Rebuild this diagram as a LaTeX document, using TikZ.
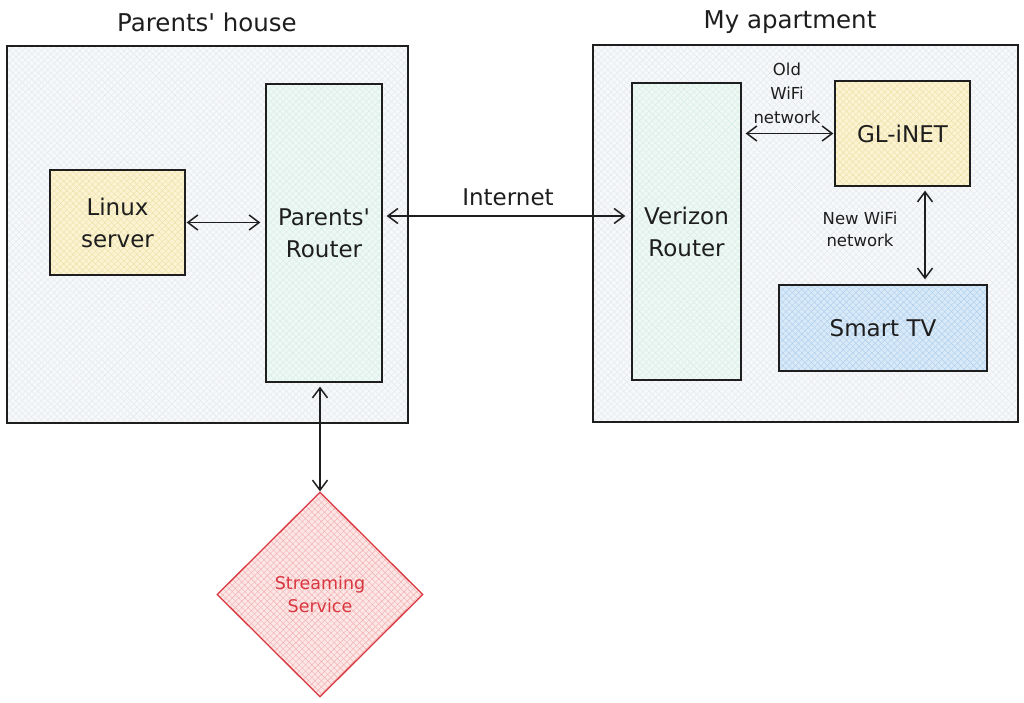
\documentclass[tikz,border=0pt]{standalone}
\usepackage{fontspec}
\setmainfont{DejaVu Sans}
\usetikzlibrary{arrows.meta,shapes.geometric,patterns.meta}
\definecolor{ink}{HTML}{1E1E1E}
\definecolor{frameF}{HTML}{F6F8FA}
\definecolor{frameP}{HTML}{E3E8ED}
\definecolor{routerF}{HTML}{EEF8F5}
\definecolor{routerP}{HTML}{D6ECE5}
\definecolor{yelF}{HTML}{FBF3D2}
\definecolor{yelP}{HTML}{EEDFA3}
\definecolor{tvF}{HTML}{D8E9F8}
\definecolor{tvP}{HTML}{ADCEEC}
\definecolor{redF}{HTML}{FCE6E6}
\definecolor{redP}{HTML}{F2AEAE}
\definecolor{redD}{HTML}{D9363E}
\tikzset{
  hatch/.style 2 args={preaction={fill=#1},
    preaction={pattern={Lines[angle=45,distance=4.5pt,line width=0.4pt]}, pattern color=#2},
    preaction={pattern={Lines[angle=-45,distance=4.5pt,line width=0.4pt]}, pattern color=#2}},
  box/.style={draw=ink, line width=1.3pt, inner sep=0pt, align=center, font=\fontsize{23}{32}\selectfont, text=ink},
  frame/.style={draw=ink, line width=1.3pt, hatch={frameF}{frameP}},
  conn/.style={draw=ink, line width=1.5pt, >={Straight Barb[length=10pt,width=15pt]}, <->},
  title/.style={font=\fontsize{24.5}{28}\selectfont, text=ink},
  lbl/.style={text=ink, align=center}
}
\begin{document}
\begin{tikzpicture}[x=1pt,y=-1pt]
\useasboundingbox (0,0) rectangle (1024,703);
% frames
\path[frame] (7,46) rectangle (408,423);
\path[frame] (593,45) rectangle (1018,422);
\node[title] (t1) at (207,22) {Parents\textquotesingle{} house};
\node[title] (t2) at (790,22) {My apartment};
% nodes
\node[box, hatch={yelF}{yelP}, minimum width=135pt, minimum height=105pt] (ls) at (117.5,222.5) {Linux\\server};
\node[box, hatch={routerF}{routerP}, minimum width=116pt, minimum height=298pt] (pr) at (324,233) {Parents\textquotesingle\\Router};
\node[box, hatch={routerF}{routerP}, minimum width=109pt, minimum height=297pt] (vr) at (686.5,231.5) {Verizon\\Router};
\node[box, hatch={yelF}{yelP}, minimum width=135pt, minimum height=105pt] (gl) at (902.5,133.5) {GL-iNET};
\node[box, hatch={tvF}{tvP}, minimum width=208pt, minimum height=86pt] (tv) at (883,328) {Smart TV};
\node[diamond, draw=redD, line width=1.3pt, hatch={redF}{redP}, inner sep=0pt,
      minimum width=206pt, minimum height=205pt, align=center, text=redD,
      font=\fontsize{17.5}{23}\selectfont] (ss) at (320,594.5) {Streaming\\Service};
% connectors
\draw[conn, shorten <=1pt, shorten >=5pt] (ls.east) -- (ls.east -| pr.west);
\draw[conn, shorten <=4pt, shorten >=6pt] ([yshift=17pt]pr.east) -- ([yshift=17pt]pr.east -| vr.west);
\node[font=\fontsize{23}{26}\selectfont, text=ink] (inet) at (508,197) {Internet};
\draw[conn, shorten <=4pt, shorten >=1pt] (vr.east |- gl.west) -- (gl.west);
\node[lbl, font=\fontsize{16.5}{24}\selectfont] (oldw) at (787,93) {Old\\WiFi\\network};
\draw[conn, shorten <=4pt, shorten >=5pt] ([xshift=22.5pt]gl.south) -- ([xshift=22.5pt]gl.south |- tv.north);
\node[lbl, font=\fontsize{16.5}{22}\selectfont] (neww) at (860,229) {New WiFi\\network};
\draw[conn, shorten <=4pt, shorten >=0pt] ([xshift=-4pt]pr.south) -- (ss.north);
\end{tikzpicture}
\end{document}
